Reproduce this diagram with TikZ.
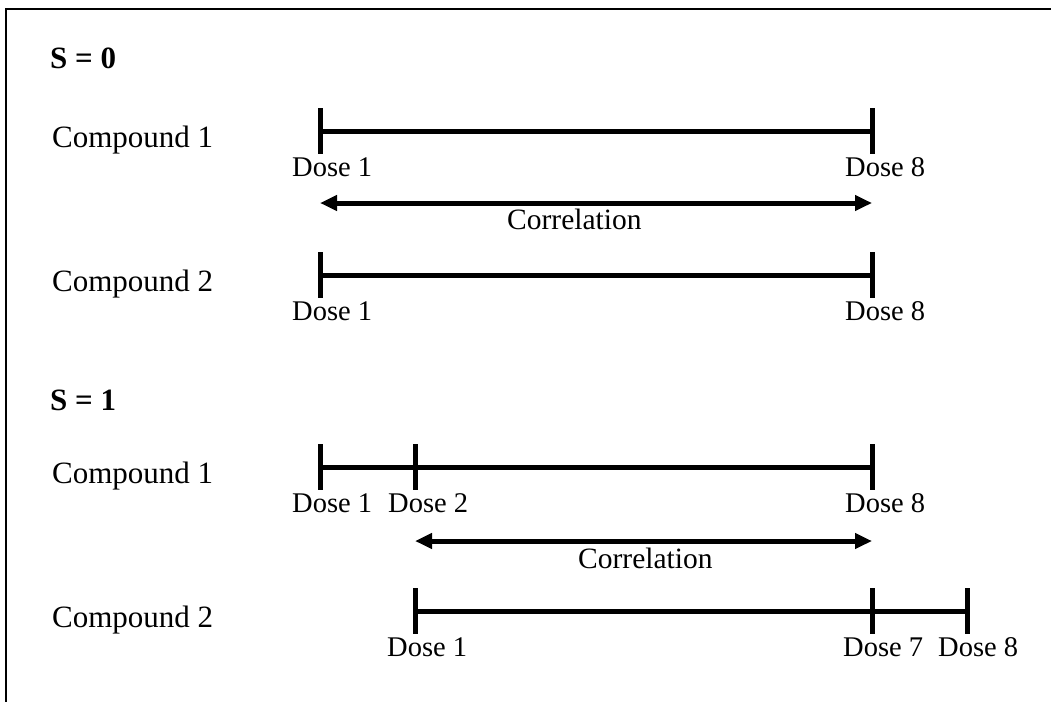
\documentclass[tikz,border=0pt]{standalone}
\usepackage{fontspec}
\setmainfont{Liberation Serif}
\usetikzlibrary{arrows.meta}
\begin{document}
\begin{tikzpicture}[x=1pt,y=-1pt,
  bar/.style={line width=5pt},
  tickmark/.style={line width=5pt},
  corr/.style={line width=5pt,
    {Triangle[length=17pt,width=15pt]}-{Triangle[length=17pt,width=15pt]}},
  cmp/.style={anchor=base west,inner sep=0pt,font=\fontsize{31}{37}\selectfont},
  dose/.style={anchor=base west,inner sep=0pt,font=\fontsize{28.5}{34}\selectfont},
  corrtext/.style={anchor=base west,inner sep=0pt,font=\fontsize{29.5}{35}\selectfont},
  head/.style={anchor=base west,inner sep=0pt,font=\fontsize{31}{37}\selectfont\bfseries},
  frame/.style={line width=2pt}]
\useasboundingbox (0,0) rectangle (1051,701);

% open frame: top and left edges
\coordinate (fb) at (6,702);
\coordinate (fc) at (6,9);
\coordinate (fr) at (1052,9);
\draw[frame] (fb) -- (fc) -- (fr);

% ---------- S = 0 ----------
\node[head] (h0) at (50,68) {S = 0};

\node[cmp] (c01) at (52,147) {Compound 1};
\coordinate (p01a) at (320,131);
\coordinate (p01b) at (872,131);
\draw[bar] (p01a) -- (p01b);
\foreach \p in {p01a,p01b}
  \draw[tickmark] ([yshift=23pt]\p) -- ([yshift=-23pt]\p);
\node[dose] (d01a) at (292,176) {Dose 1};
\node[dose] (d01b) at (845,176) {Dose 8};

\coordinate (r0a) at (320,203);
\coordinate (r0b) at (872,203);
\draw[corr] (r0a) -- (r0b);
\node[corrtext] (k0) at (507,229) {Correlation};

\node[cmp] (c02) at (52,291) {Compound 2};
\coordinate (p02a) at (320,275);
\coordinate (p02b) at (872,275);
\draw[bar] (p02a) -- (p02b);
\foreach \p in {p02a,p02b}
  \draw[tickmark] ([yshift=23pt]\p) -- ([yshift=-23pt]\p);
\node[dose] (d02a) at (292,320) {Dose 1};
\node[dose] (d02b) at (845,320) {Dose 8};

% ---------- S = 1 ----------
\node[head] (h1) at (50,410) {S = 1};

\node[cmp] (c11) at (52,483) {Compound 1};
\coordinate (p11a) at (320,467);
\coordinate (p11b) at (415,467);
\coordinate (p11c) at (872,467);
\draw[bar] (p11a) -- (p11c);
\foreach \p in {p11a,p11b,p11c}
  \draw[tickmark] ([yshift=23pt]\p) -- ([yshift=-23pt]\p);
\node[dose] (d11a) at (292,512) {Dose 1};
\node[dose] (d11b) at (388,512) {Dose 2};
\node[dose] (d11c) at (845,512) {Dose 8};

\coordinate (r1a) at (415,541);
\coordinate (r1b) at (872,541);
\draw[corr] (r1a) -- (r1b);
\node[corrtext] (k1) at (578,568) {Correlation};

\node[cmp] (c12) at (52,627) {Compound 2};
\coordinate (p12a) at (415,611);
\coordinate (p12b) at (872,611);
\coordinate (p12c) at (967,611);
\draw[bar] (p12a) -- (p12c);
\foreach \p in {p12a,p12b,p12c}
  \draw[tickmark] ([yshift=23pt]\p) -- ([yshift=-23pt]\p);
\node[dose] (d12a) at (387,656) {Dose 1};
\node[dose] (d12b) at (843,656) {Dose 7};
\node[dose] (d12c) at (938,656) {Dose 8};
\end{tikzpicture}
\end{document}
